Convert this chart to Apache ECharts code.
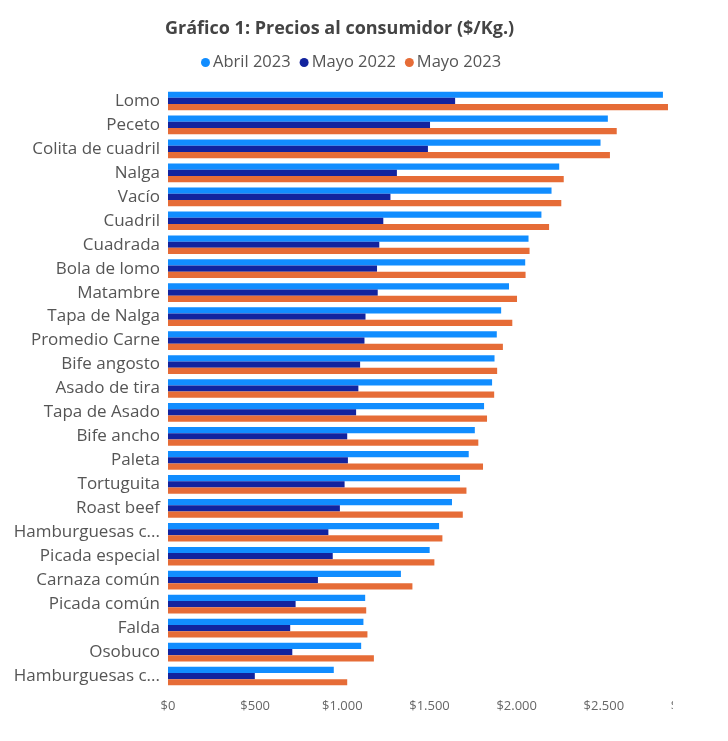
<!DOCTYPE html>
<html>
<head>
<meta charset="utf-8">
<script src="https://cdn.jsdelivr.net/npm/echarts@6/dist/echarts.min.js"></script>
<style>
  html, body { margin: 0; padding: 0; background: #fff; }
  #chart { width: 728px; height: 741px; }
</style>
</head>
<body>
<div id="chart"></div>
<script>
var categories = [
  "Lomo", "Peceto", "Colita de cuadril", "Nalga", "Vacío", "Cuadril", "Cuadrada",
  "Bola de lomo", "Matambre", "Tapa de Nalga", "Promedio Carne", "Bife angosto",
  "Asado de tira", "Tapa de Asado", "Bife ancho", "Paleta", "Tortuguita", "Roast beef",
  "Hamburguesas c...", "Picada especial", "Carnaza común", "Picada común", "Falda",
  "Osobuco", "Hamburguesas c..."
];
var abril2023 = [
  2839, 2523, 2481, 2244, 2200, 2142, 2068,
  2049, 1956, 1911, 1886, 1873,
  1859, 1813, 1760, 1725, 1675, 1629,
  1555, 1501, 1336, 1131, 1121,
  1108, 951
];
var mayo2022 = [
  1647, 1503, 1491, 1313, 1276, 1235, 1212,
  1199, 1203, 1133, 1127, 1102,
  1092, 1079, 1028, 1032, 1013, 986,
  920, 945, 860, 732, 701,
  713, 498
];
var mayo2023 = [
  2868, 2574, 2535, 2270, 2256, 2186, 2074,
  2051, 2002, 1975, 1921, 1888,
  1871, 1830, 1780, 1807, 1712, 1691,
  1574, 1528, 1402, 1137, 1144,
  1181, 1028
];
var xTicks = [0, 500, 1000, 1500, 2000, 2500, 3000];

function pesos(v) {
  return "$" + String(v).replace(/\B(?=(\d{3})+(?!\d))/g, ".");
}

var myChart = echarts.init(document.getElementById("chart"));
var option = {
  textStyle: { fontFamily: "Open Sans" },
  title: {
    text: "Gráfico 1: Precios al consumidor ($/Kg.)",
    left: 160,
    top: 15,
    textStyle: { fontSize: 18, fontWeight: "bold", color: "#444", fontFamily: "Open Sans" }
  },
  legend: {
    top: 49,
    left: 196,
    itemWidth: 9,
    itemHeight: 9,
    itemGap: 9,
    icon: "circle",
    textStyle: { fontSize: 16.5, color: "#555", padding: [0, 0, 0, -2] },
    data: ["Abril 2023", "Mayo 2022", "Mayo 2023"]
  },
  grid: { left: 168, right: 37, top: 89, bottom: 53 },
  xAxis: {
    type: "value",
    min: xTicks[0],
    max: xTicks[xTicks.length - 1],
    interval: 500,
    splitLine: { show: false },
    axisLine: { show: false },
    axisTick: { show: false },
    axisLabel: {
      color: "#666",
      fontSize: 13,
      margin: 12,
      formatter: pesos
    }
  },
  yAxis: {
    type: "category",
    inverse: true,
    data: categories,
    axisLine: { show: false },
    axisTick: { show: false },
    axisLabel: { color: "#555", fontSize: 17, margin: 8 }
  },
  series: [
    {
      name: "Abril 2023",
      type: "bar",
      data: abril2023,
      itemStyle: { color: "#118DFF" },
      barGap: "0%",
      barCategoryGap: "22%"
    },
    {
      name: "Mayo 2022",
      type: "bar",
      data: mayo2022,
      itemStyle: { color: "#12239E" }
    },
    {
      name: "Mayo 2023",
      type: "bar",
      data: mayo2023,
      itemStyle: { color: "#E66C37" }
    }
  ],
  // the last tick label is cut by the frame in the original
  graphic: [{
    type: "rect",
    left: 673,
    top: 690,
    z: 100,
    shape: { width: 60, height: 30 },
    style: { fill: "#fff" }
  }]
};
myChart.setOption(option);
</script>
</body>
</html>
